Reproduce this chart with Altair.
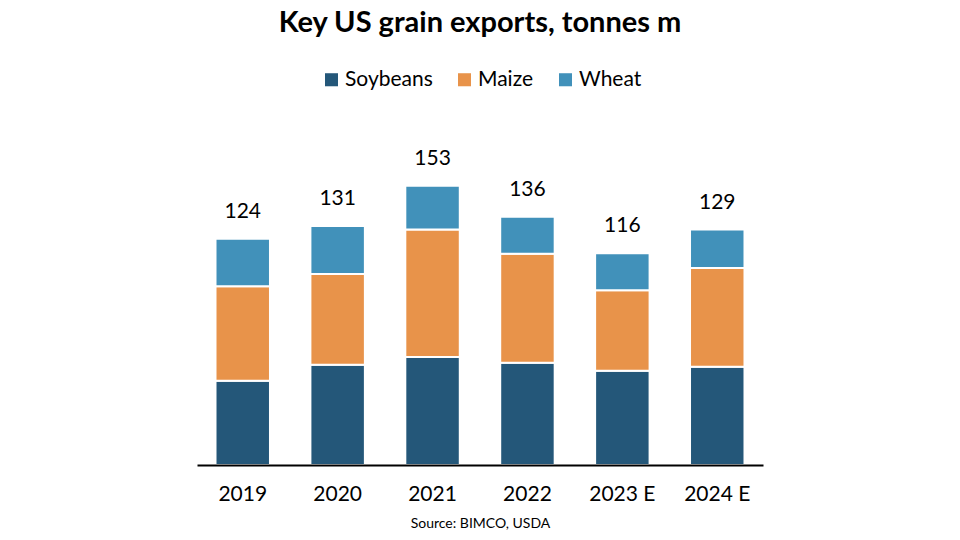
import altair as alt
import pandas as pd

years = ["2019", "2020", "2021", "2022", "2023 E", "2024 E"]
soybeans = [46.1, 54.9, 59.2, 56.0, 51.6, 53.8]
maize = [51.8, 49.7, 69.9, 59.8, 44.1, 54.2]
wheat = [26.1, 26.4, 23.9, 20.2, 20.3, 21.0]
totals = [124, 131, 153, 136, 116, 129]

series = ["Soybeans", "Maize", "Wheat"]
colors = ["#245779", "#E8934A", "#4191BA"]

rows = []
for i, y in enumerate(years):
    for k, (name, vals) in enumerate(zip(series, [soybeans, maize, wheat])):
        rows.append({"year": y, "crop": name, "value": vals[i], "ord": k})
df = pd.DataFrame(rows)
tot = pd.DataFrame({"year": years, "total": totals})

FONT = "Lato"

x = alt.X("year:N", sort=years,
          scale=alt.Scale(paddingInner=0.426, paddingOuter=0.195),
          axis=alt.Axis(title="Source: BIMCO, USDA", labelAngle=0, ticks=False,
                        domainColor="black", domainWidth=2, zindex=1,
                        labelFontSize=21, labelFont=FONT, labelColor="black",
                        labelPadding=18, titleFont=FONT, titleFontSize=14,
                        titleFontWeight="normal", titleColor="black", titlePadding=12))

bars = alt.Chart(df).mark_bar(stroke="white", strokeWidth=2).encode(
    x=x,
    y=alt.Y("value:Q", stack="zero", scale=alt.Scale(domain=[0, 160]), axis=None),
    color=alt.Color("crop:N", sort=series,
                    scale=alt.Scale(domain=series, range=colors),
                    legend=alt.Legend(title=None, orient="none", direction="horizontal",
                                      legendX=124, legendY=-104,
                                      symbolType="square", symbolSize=170,
                                      symbolStrokeWidth=0,
                                      labelFont=FONT, labelFontSize=21, labelColor="black",
                                      columnPadding=21, labelOffset=3)),
    order=alt.Order("ord:Q", sort="ascending"),
)

labels = alt.Chart(tot).mark_text(dy=-21, baseline="alphabetic", fontSize=21,
                                  font=FONT, color="black").encode(
    x=alt.X("year:N", sort=years),
    y=alt.Y("total:Q", scale=alt.Scale(domain=[0, 160])),
    text=alt.Text("total:Q"),
)

chart = alt.layer(bars, labels).properties(
    width=566, height=292,
    title=alt.TitleParams("Key US grain exports, tonnes m", font=FONT, fontSize=29,
                          fontWeight="bold", color="black", anchor="middle",
                          baseline="alphabetic", offset=8),
    autosize=alt.AutoSizeParams(type="none"),
    padding={"left": 189, "top": 165, "right": 189, "bottom": 67},
).configure_view(stroke=None)

chart.save("out.html", embed_options={"renderer": "svg", "actions": False})
